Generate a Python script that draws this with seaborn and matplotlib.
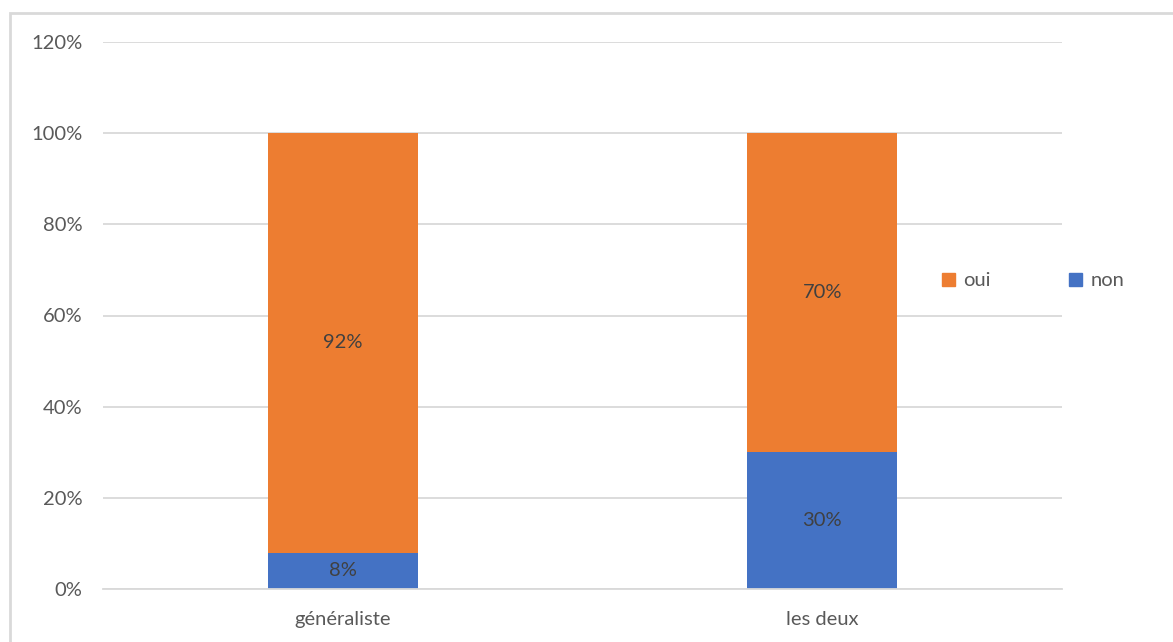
import numpy as np
import pandas as pd
import matplotlib
matplotlib.use("Agg")
import matplotlib.pyplot as plt
import seaborn as sns
from matplotlib.patches import Rectangle, Patch

categories = ['généraliste', 'les deux']
non = [8, 30]
oui = [92, 70]
yticks = [0, 20, 40, 60, 80, 100, 120]

orange = '#ED7D31'
blue = '#4472C4'
grid = '#D9D9D9'
txt = '#595959'

sns.set_style('white')
plt.rcParams['font.family'] = ['Lato', 'DejaVu Sans']

df = pd.DataFrame({'cat': categories, 'non': non, 'oui': oui})
df['total'] = df['non'] + df['oui']

fig = plt.figure(figsize=(11.73, 6.42), dpi=100)
ax = fig.add_axes([103 / 1173, 1 - 589 / 642, (1062 - 103) / 1173, (589 - 42) / 642])

sns.barplot(data=df, x='cat', y='total', color=orange, width=0.313, saturation=1, ax=ax,
            zorder=3, linewidth=0)
sns.barplot(data=df, x='cat', y='non', color=blue, width=0.313, saturation=1, ax=ax,
            zorder=3, linewidth=0)

fs = 14.5
for i, row in df.iterrows():
    ax.text(i, row['non'] / 2, f"{row['non']}%", ha='center', va='center', fontsize=fs, color='#404040', zorder=4)
    ax.text(i, row['non'] + row['oui'] / 2, f"{row['oui']}%", ha='center', va='center', fontsize=fs, color='#404040', zorder=4)

ax.set_xlim(-0.5, 1.5)
ax.set_ylim(0, 120)
ax.set_yticks(yticks)
ax.set_yticklabels([f'{t}%' for t in yticks], fontsize=fs, color=txt)
ax.tick_params(axis='y', length=0, pad=15)
ax.set_xticks([0, 1])
ax.set_xticklabels(categories, fontsize=fs, color=txt)
ax.set_xticks([-0.5, 0.5, 1.5], minor=True)
ax.tick_params(axis='x', which='major', length=0, pad=16)
ax.tick_params(axis='x', which='minor', length=6, width=1.3, color=grid)
ax.set_xlabel('')
ax.set_ylabel('')
ax.grid(axis='y', color=grid, linewidth=1.3, zorder=0)
for s in ['top', 'right', 'left']:
    ax.spines[s].set_visible(False)
ax.spines['bottom'].set_color(grid)
ax.spines['bottom'].set_linewidth(1.3)
ax.spines['bottom'].set_zorder(5)

handles = [Patch(color=orange, label='oui'), Patch(color=blue, label='non')]
fig.legend(handles=handles, loc='center', bbox_to_anchor=(1033 / 1173, 1 - 281 / 642), ncol=2,
           frameon=False, fontsize=fs, labelcolor=txt, handlelength=0.65, handleheight=0.65,
           handletextpad=0.4, columnspacing=3.9)

fig.patches.append(Rectangle((10 / 1173, -0.1), 1.2, 1 - 13 / 642 + 0.1, transform=fig.transFigure,
                             fill=False, edgecolor='#D9D9D9', linewidth=2))

fig.savefig('out.png', dpi=100, facecolor='white')
